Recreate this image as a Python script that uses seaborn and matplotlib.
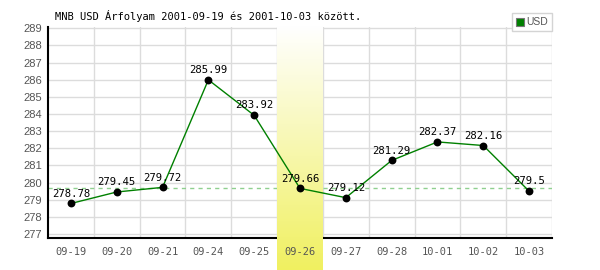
import numpy as np
import pandas as pd
import matplotlib
matplotlib.use("Agg")
import matplotlib.pyplot as plt
from matplotlib.lines import Line2D
import seaborn as sns

# ---- data ----
dates = ["09-19", "09-20", "09-21", "09-24", "09-25", "09-26",
         "09-27", "09-28", "10-01", "10-02", "10-03"]
usd = [278.78, 279.45, 279.72, 285.99, 283.92, 279.66,
       279.12, 281.29, 282.37, 282.16, 279.5]
value_labels = ["278.78", "279.45", "279.72", "285.99", "283.92", "279.66",
                "279.12", "281.29", "282.37", "282.16", "279.5"]
highlight_date = "09-26"
reference_value = 279.66
y_ticks = list(range(277, 290))
title = "MNB USD Árfolyam 2001-09-19 és 2001-10-03 között."
series_name = "USD"

# ---- style ----
sns.set_style("white")
plt.rcParams['font.family'] = ['DejaVu Sans Mono']

W, H = 600, 270
fig = plt.figure(figsize=(W / 100, H / 100), dpi=100)
ax_left, ax_right, ax_top, ax_bottom = 48, 552, 26.5, 238.3
ax = fig.add_axes([ax_left / W, 1 - ax_bottom / H,
                   (ax_right - ax_left) / W, (ax_bottom - ax_top) / H])
ax.set_facecolor("white")

df = pd.DataFrame({"date": dates, "usd": usd})
sns.lineplot(data=df, x="date", y="usd", ax=ax, color="#008000",
             linewidth=1, zorder=2, sort=False)
sns.scatterplot(data=df, x="date", y="usd", ax=ax, color="black",
                s=32, linewidth=0, zorder=3)

ylim = (276.75, 289.1)
xlim = (-0.5, len(dates) - 0.5)

# grid
for v in y_ticks:
    ax.axhline(v, color="#dcdcdc", lw=1, zorder=0.8)
for i in range(len(dates)):
    ax.axvline(i + 0.5, color="#dcdcdc", lw=1, zorder=0.8)

# reference dashed line
ax.axhline(reference_value, color="#8fd08f", lw=1, ls=(0, (3, 3)), zorder=0.9)

# highlight gradient column
hi = dates.index(highlight_date)
px_per_unit = (ax_bottom - ax_top) / (ylim[1] - ylim[0])
y_fig_bottom = ylim[0] - (H - ax_bottom) / px_per_unit
n = 256
t = np.linspace(0, 1, n)[:, None]
top_c = np.array([1.0, 1.0, 1.0])
bot_c = np.array([240, 240, 96]) / 255
grad = (top_c * (1 - t) + bot_c * t).reshape(n, 1, 3)
ax.imshow(grad, extent=(hi - 0.5, hi + 0.5, y_fig_bottom, ylim[1]),
          aspect="auto", zorder=1, clip_on=False, interpolation="bilinear",
          origin="upper")

# value labels
for i, (v, lbl) in enumerate(zip(usd, value_labels)):
    ax.annotate(lbl, (i, v), xytext=(0, 3.5), textcoords="offset points",
                ha="center", va="bottom", fontsize=7.7, color="black",
                zorder=4, family="DejaVu Sans Mono")

ax.set_xlim(*xlim)
ax.set_ylim(*ylim)
ax.set_axisbelow(False)
ax.set_xlabel("")
ax.set_ylabel("")
ax.set_yticks(y_ticks)
ax.set_yticklabels([str(v) for v in y_ticks])
ax.set_xticks(range(len(dates)))
ax.set_xticklabels(dates)
ax.tick_params(axis="both", length=0)
ax.tick_params(axis="x", pad=6, labelsize=7.5, labelcolor="#555555")
ax.tick_params(axis="y", pad=4.3, labelsize=8, labelcolor="#555555")
for lab in ax.get_yticklabels():
    lab.set_family("Liberation Sans")
for lab in ax.get_xticklabels():
    lab.set_family("DejaVu Sans Mono")

for s in ["top", "right"]:
    ax.spines[s].set_visible(False)
ax.spines["left"].set_color("black")
ax.spines["left"].set_linewidth(1.5)
ax.spines["bottom"].set_color("black")
ax.spines["bottom"].set_linewidth(1.5)
ax.spines["bottom"].set_zorder(0.9)

# legend
handle = Line2D([], [], marker="s", color="none", markerfacecolor="#008000",
                markeredgecolor="#777777", markersize=6, markeredgewidth=0.8)
leg = ax.legend([handle], [series_name], loc="upper right",
                bbox_to_anchor=(ax_right / W, 1 - 13 / H),
                bbox_transform=fig.transFigure, borderaxespad=0,
                frameon=True, fancybox=False, framealpha=1,
                edgecolor="#d4d4d4", handlelength=0.7, handletextpad=0.25,
                borderpad=0.4, prop={"family": "Liberation Sans", "size": 7.5})
leg.get_frame().set_linewidth(1)
for txt in leg.get_texts():
    txt.set_color("#555555")

fig.text(55 / W, 1 - 16 / H, title, ha="left", va="center", fontsize=7.45,
         family="DejaVu Sans Mono", color="black")

fig.savefig("out.png", dpi=100)
